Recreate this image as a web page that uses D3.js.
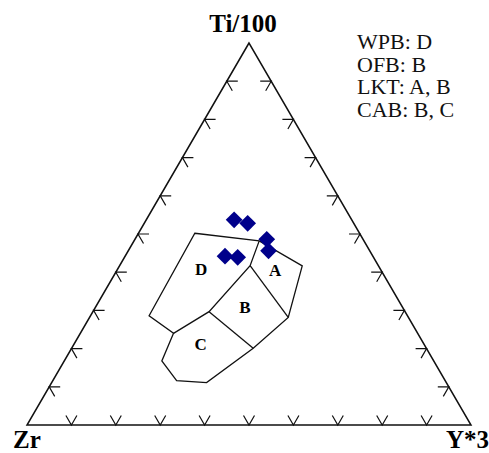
<!DOCTYPE html>
<html>
<head>
<meta charset="utf-8">
<script src="https://cdn.jsdelivr.net/npm/d3@7"></script>
<style>
  body { margin: 0; background: #fff; }
</style>
</head>
<body>
<div class="canvas"></div>
<script>
// ternary values are [Ti/100, Zr, Y*3] in percent
var apexLabels = ["Ti/100", "Zr", "Y*3"];
var legendLines = ["WPB: D", "OFB: B", "LKT: A, B", "CAB: B, C"];
var tickValues = [10, 20, 30, 40, 50, 60, 70, 80, 90];

// outer outline of the discrimination fields
var fieldOutline = [
  [50.2, 37.1, 12.7], [48.2, 23.6, 28.2], [41.7, 17.2, 41.2], [28.2, 27.1, 44.8],
  [20.1, 39.0, 40.9], [11.1, 54.0, 34.9], [11.6, 60.5, 27.9], [16.8, 61.3, 22.0],
  [24.0, 55.0, 21.0], [28.6, 58.2, 13.2]
];
// inner boundaries between fields
var fieldLines = [
  [[48.2, 23.6, 28.2], [41.7, 28.9, 29.4], [29.7, 44.2, 26.2], [24.0, 55.0, 21.0]],
  [[41.7, 28.9, 29.4], [28.2, 27.1, 44.8]],
  [[29.7, 44.2, 26.2], [20.1, 39.0, 40.9]]
];
var fieldNames = ["A", "B", "C", "D"];
var fieldCentres = [[40.6, 23.8, 35.6], [30.8, 35.5, 33.7], [21.2, 50.3, 28.5], [40.8, 40.4, 18.8]];

// samples
var sampleTi = [53.7, 52.8, 48.6, 45.6, 44.2, 43.9];
var sampleZr = [26.5, 23.9, 21.7, 22.8, 33.3, 30.6];
var sampleY  = [19.8, 23.3, 29.7, 31.6, 22.5, 25.5];

var svg = d3.select(".canvas").append("svg").attr("width", 489).attr("height", 453);

var xScale = d3.scaleLinear().domain([0, 1]).range([27, 471]);
var yScale = d3.scaleLinear().domain([0, 1]).range([425, 43]);

function proj(p) {
  var s = p[0] + p[1] + p[2];
  var t = p[0] / s, y = p[2] / s;
  return [xScale(y + t / 2), yScale(t)];
}

var line = d3.line().x(d => proj(d)[0]).y(d => proj(d)[1]);

// triangle
svg.append("path")
  .attr("d", line([[100, 0, 0], [0, 100, 0], [0, 0, 100]]) + "Z")
  .attr("fill", "none")
  .attr("stroke", "#111")
  .attr("stroke-width", 1.5);

// tick arrows
var L = 11;
var c = Math.cos(Math.PI / 3), s = Math.sin(Math.PI / 3);
tickValues.forEach(function (v) {
  var b = proj([0, 100 - v, v]);
  var l = proj([v, 100 - v, 0]);
  var r = proj([v, 0, 100 - v]);
  var ticks = [
    [[b[0] - L * c, b[1] - L * s], b, [b[0] + L * c, b[1] - L * s]],
    [[l[0] + L, l[1]], l, [l[0] + L * c, l[1] + L * s]],
    [[r[0] - L, r[1]], r, [r[0] - L * c, r[1] + L * s]]
  ];
  ticks.forEach(function (tk) {
    svg.append("path")
      .attr("d", d3.line()(tk))
      .attr("fill", "none")
      .attr("stroke", "#111")
      .attr("stroke-width", 1.2);
  });
});

// fields
svg.append("path")
  .attr("d", line(fieldOutline) + "Z")
  .attr("fill", "none")
  .attr("stroke", "#111")
  .attr("stroke-width", 1.3);

fieldLines.forEach(function (fl) {
  svg.append("path")
    .attr("d", line(fl))
    .attr("fill", "none")
    .attr("stroke", "#111")
    .attr("stroke-width", 1.3);
});

fieldNames.forEach(function (n, i) {
  var p = proj(fieldCentres[i]);
  svg.append("text")
    .attr("x", p[0])
    .attr("y", p[1] + 6)
    .attr("text-anchor", "middle")
    .attr("font-family", "Liberation Serif")
    .attr("font-weight", "bold")
    .attr("font-size", "17px")
    .text(n);
});

// samples
var diamond = d3.symbol().type(d3.symbolSquare).size(140);
sampleTi.forEach(function (t, i) {
  var p = proj([t, sampleZr[i], sampleY[i]]);
  svg.append("path")
    .attr("d", diamond())
    .attr("transform", "translate(" + p[0] + "," + p[1] + ") rotate(45)")
    .attr("fill", "#00008b");
});

// apex labels
svg.append("text").attr("x", 243).attr("y", 32).attr("text-anchor", "middle")
  .attr("font-family", "Liberation Serif").attr("font-weight", "bold").attr("font-size", "25px")
  .text(apexLabels[0]);
svg.append("text").attr("x", 13).attr("y", 448).attr("text-anchor", "start")
  .attr("font-family", "Liberation Serif").attr("font-weight", "bold").attr("font-size", "25px")
  .text(apexLabels[1]);
svg.append("text").attr("x", 446).attr("y", 448).attr("text-anchor", "start")
  .attr("font-family", "Liberation Serif").attr("font-weight", "bold").attr("font-size", "25px")
  .text(apexLabels[2]);

// legend
legendLines.forEach(function (t, i) {
  svg.append("text")
    .attr("x", 357)
    .attr("y", 49 + i * 22.7)
    .attr("font-family", "Liberation Serif")
    .attr("font-size", "22px")
    .attr("fill", "#111")
    .text(t);
});
</script>
</body>
</html>
